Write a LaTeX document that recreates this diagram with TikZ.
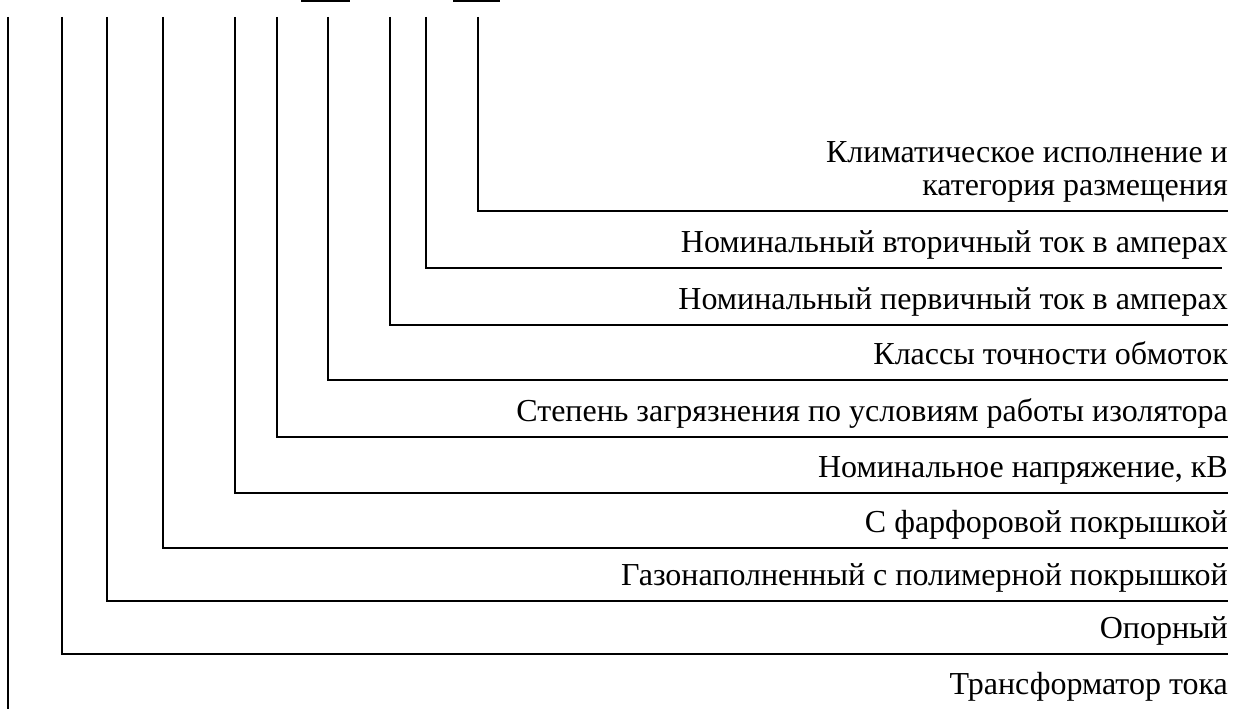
\documentclass[tikz,border=0pt]{standalone}
\usepackage{fontspec}
\setmainfont{Liberation Serif}
\tikzset{
  lead/.style={line width=1.4pt},
  lbl/.style={anchor=base east, inner sep=0pt, font=\fontsize{32}{33}\selectfont, align=right}
}
\begin{document}
\begin{tikzpicture}[x=1pt,y=-1pt]
    \useasboundingbox (0,0) rectangle (1234,709);

    % Short rules left over at the top edge
    \draw[line width=1.2pt] (301,1) -- (350,1);
    \draw[line width=1.2pt] (453,1) -- (500,1);

    % Tops of the leads
    \coordinate (t0) at (8,17);
    \coordinate (t1) at (62,17);
    \coordinate (t2) at (107,17);
    \coordinate (t3) at (163,17);
    \coordinate (t4) at (235,17);
    \coordinate (t5) at (277,17);
    \coordinate (t6) at (328,17);
    \coordinate (t7) at (390,17);
    \coordinate (t8) at (426,17);
    \coordinate (t9) at (478,17);

    % Ends of the leads on the right
    \coordinate (e0) at (8,709);
    \coordinate (e1) at (1228,654);
    \coordinate (e2) at (1228,601);
    \coordinate (e3) at (1228,548);
    \coordinate (e4) at (1228,493);
    \coordinate (e5) at (1228,437);
    \coordinate (e6) at (1228,380);
    \coordinate (e7) at (1228,325);
    \coordinate (e8) at (1222,268);
    \coordinate (e9) at (1228,211);

    % Labels
    \node[lbl] (l0) at (1228,694) {Трансформатор тока};
    \node[lbl] (l1) at (1228,638) {Опорный};
    \node[lbl] (l2) at (1228,585) {Газонаполненный с полимерной покрышкой};
    \node[lbl] (l3) at (1228,532) {С фарфоровой покрышкой};
    \node[lbl] (l4) at (1228,477) {Номинальное напряжение, кВ};
    \node[lbl] (l5) at (1228,421) {Степень загрязнения по условиям работы изолятора};
    \node[lbl] (l6) at (1228,364) {Классы точности обмоток};
    \node[lbl] (l7) at (1228,309) {Номинальный первичный ток в амперах};
    \node[lbl] (l8) at (1228,252) {Номинальный вторичный ток в амперах};
    \node[lbl] (l9) at (1228,195) {Климатическое исполнение и\\категория размещения};

    % Leads
    \draw[lead] (t0) -- (e0);
    \draw[lead] (t1) |- (e1);
    \draw[lead] (t2) |- (e2);
    \draw[lead] (t3) |- (e3);
    \draw[lead] (t4) |- (e4);
    \draw[lead] (t5) |- (e5);
    \draw[lead] (t6) |- (e6);
    \draw[lead] (t7) |- (e7);
    \draw[lead] (t8) |- (e8);
    \draw[lead] (t9) |- (e9);
\end{tikzpicture}
\end{document}
